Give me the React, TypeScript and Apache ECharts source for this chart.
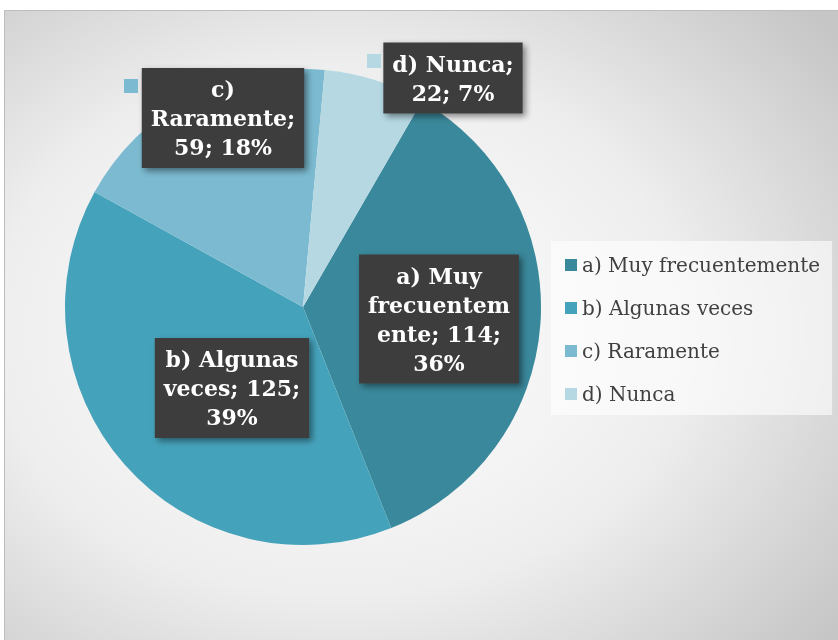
import React, { useEffect, useRef } from "react";
import * as echarts from "echarts";

// ---- data ----
const categories = ["a) Muy frecuentemente", "b) Algunas veces", "c) Raramente", "d) Nunca"];
const values = [114, 125, 59, 22];
const colors = ["#3a889b", "#45a2bb", "#7bbad0", "#b5d8e2"];

// ---- layout (label placement, not data) ----
const labelCenters: number[][] = [[439, 319], [232, 388], [223, 118], [453, 78]];
const keyCenters: number[][] = [[0, 0], [0, 0], [131, 86], [374, 61]];
const wrapChars = [10, 11, 10, 9];
const showKey = [false, false, true, true];

function wrap(text: string, max: number): string {
  const words = text.split(" ");
  const lines: string[] = [];
  let cur = "";
  for (let w of words) {
    const cand = cur ? cur + " " + w : w;
    if (cand.length <= max) {
      cur = cand;
      continue;
    }
    if (cur) {
      lines.push(cur);
      cur = "";
    }
    while (w.length > max) {
      lines.push(w.slice(0, max));
      w = w.slice(max);
    }
    cur = w;
  }
  if (cur) lines.push(cur);
  return lines.join("\n");
}

export default function App() {
  const ref = useRef<HTMLDivElement>(null);
  useEffect(() => {
    if (!ref.current) return;
    const chart = echarts.init(ref.current, undefined, { renderer: "svg" });
    const data = categories.map((name, i) => ({ name, value: values[i], itemStyle: { color: colors[i] } }));
    const keyData = categories.map((name, i) => ({
      name,
      value: values[i],
      label: {
        show: showKey[i],
        formatter: "{k|}",
        rich: { k: { width: 14, height: 14, backgroundColor: colors[i] } },
      },
    }));
    chart.setOption({
      animation: false,
      graphic: [
        {
          type: "rect",
          z: -10,
          shape: { x: 4.5, y: 10.5, width: 840, height: 640 },
          style: {
            fill: {
              type: "radial",
              x: 0.4,
              y: 0.5,
              r: 0.75,
              colorStops: [
                { offset: 0, color: "#ffffff" },
                { offset: 0.55, color: "#eeeeee" },
                { offset: 1, color: "#c6c6c6" },
              ],
            },
            stroke: "#bdbdbd",
            lineWidth: 1,
          },
        },
      ],
      legend: {
        orient: "vertical",
        left: 551,
        top: 241,
        padding: [13, 12, 10, 14],
        itemGap: 21,
        itemWidth: 12,
        itemHeight: 12,
        icon: "rect",
        backgroundColor: "rgba(255,255,255,0.6)",
        data: categories,
        textStyle: {
          fontFamily: "DejaVu Serif",
          fontSize: 20,
          lineHeight: 22,
          color: "#404040",
        },
      },
      series: [
        {
          type: "pie",
          center: [303, 307],
          radius: 238,
          startAngle: 60,
          clockwise: true,
          data,
          label: {
            show: true,
            position: "inside",
            formatter: (p: any) =>
              wrap(`${p.name}; ${p.value}; ${Math.round(p.percent)}%`, wrapChars[p.dataIndex]),
            color: "#ffffff",
            fontFamily: "DejaVu Serif",
            fontWeight: "bold",
            fontSize: 22,
            lineHeight: 29,
            align: "center",
            backgroundColor: "#3d3d3d",
            padding: [7, 9, 6, 9],
            shadowColor: "rgba(0,0,0,0.45)",
            shadowBlur: 6,
            shadowOffsetX: 3,
            shadowOffsetY: 3,
          },
          labelLine: { show: false },
          labelLayout: (params: any) => ({
            x: labelCenters[params.dataIndex][0],
            y: labelCenters[params.dataIndex][1],
            align: "center",
            verticalAlign: "middle",
          }),
          emphasis: { disabled: true },
        },
        {
          type: "pie",
          center: [303, 307],
          radius: 238,
          startAngle: 60,
          silent: true,
          legendHoverLink: false,
          itemStyle: { color: "rgba(0,0,0,0)" },
          data: keyData,
          label: { position: "inside" },
          labelLine: { show: false },
          labelLayout: (params: any) => ({
            x: keyCenters[params.dataIndex][0],
            y: keyCenters[params.dataIndex][1],
            align: "center",
            verticalAlign: "middle",
          }),
          emphasis: { disabled: true },
        },
      ],
    });
    return () => chart.dispose();
  }, []);
  return (
    <div
      ref={ref}
      style={{ position: "fixed", left: 0, top: 0, width: 838, height: 640 }}
    />
  );
}
